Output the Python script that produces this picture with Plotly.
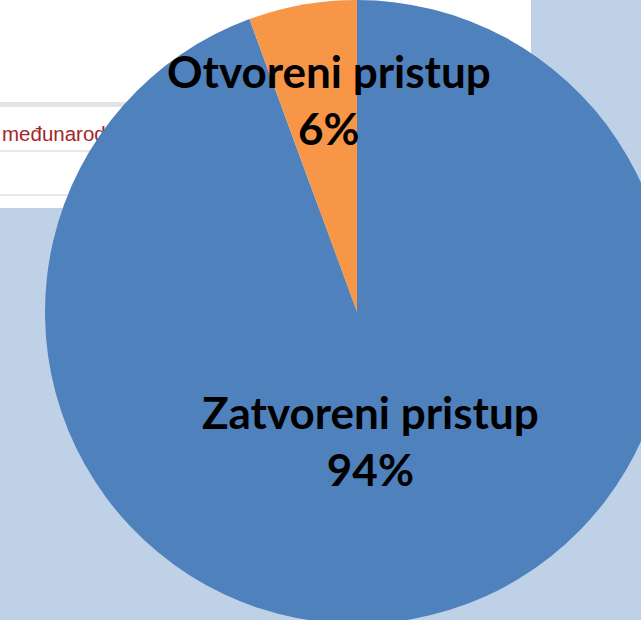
import plotly.graph_objects as go

# Data
categories = ["Zatvoreni pristup", "Otvoreni pristup"]
shares = [94.4, 5.6]
slice_colors = ["#4f81bd", "#f79646"]

# figure slightly larger than the window so the pie can run off the bottom/right edges
W, H = 680, 624
CX, CY, R = 357, 312, 312  # pie centre / radius in pixels

fig = go.Figure()
fig.add_trace(go.Pie(
    labels=categories,
    values=shares,
    sort=False,
    direction="clockwise",
    rotation=0,
    marker=dict(colors=slice_colors, line=dict(width=0)),
    textinfo="none",
    hoverinfo="label+percent",
    showlegend=False,
    domain=dict(x=[(CX - R) / W, (CX + R) / W], y=[0, 1]),
))


def px_rect(x0, x1, y0, y1, **kw):
    return dict(type="rect", xref="paper", yref="paper",
                x0=x0 / W, x1=x1 / W, y0=1 - y1 / H, y1=1 - y0 / H,
                layer="below", **kw)


shapes = [
    px_rect(0, 531, 0, 208, fillcolor="white", line=dict(width=0)),
    px_rect(0, 531, 102, 107, fillcolor="#e4e4e4", line=dict(width=0)),
    px_rect(0, 531, 150, 152, fillcolor="#e8e8e8", line=dict(width=0)),
    px_rect(0, 531, 194, 196, fillcolor="#e8e8e8", line=dict(width=0)),
    px_rect(-1, 300, 112, 152, fillcolor="rgba(0,0,0,0)", line=dict(width=0),
            label=dict(text="međunarodnih", textposition="middle left", padding=0,
                       font=dict(family="Liberation Sans, Arial", size=20.5, color="#a3262a"))),
]

annotations = []
label_pos = {
    "Zatvoreni pristup": (371, 440),
    "Otvoreni pristup": (329, 100),
}
for name, v in zip(categories, shares):
    x, y = label_pos[name]
    annotations.append(dict(
        x=x / W, y=1 - y / H, xref="paper", yref="paper",
        text=f"<b>{name}<br>{round(v)}%</b>",
        showarrow=False, xanchor="center", yanchor="middle", align="center",
        font=dict(family="Lato", size=44, color="black"),
    ))

fig.update_layout(
    width=W, height=H,
    margin=dict(l=0, r=0, t=0, b=0),
    paper_bgcolor="#bfd1e7",
    plot_bgcolor="#bfd1e7",
    shapes=shapes,
    annotations=annotations,
)

fig.write_html(
    "out.html",
    config={"displayModeBar": False},
    post_script="document.body.style.margin='0';document.body.style.overflow='hidden';"
                "document.documentElement.style.overflow='hidden';",
)
